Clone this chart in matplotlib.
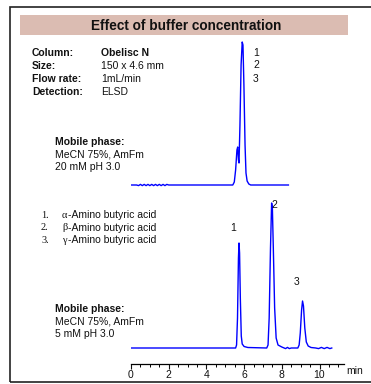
import matplotlib
matplotlib.use("Agg")
import matplotlib.pyplot as plt
from matplotlib.patches import Rectangle
from matplotlib.ticker import MultipleLocator

# ---------------- data ----------------
# bottom trace: 5 mM buffer  (time [min], signal [a.u.])
t_5mM = [0, 5.55, 5.60, 5.65, 5.70, 5.73, 5.76, 5.80, 5.85, 5.90, 6.00, 6.20,
         7.20, 7.27, 7.33, 7.40, 7.46, 7.50, 7.55, 7.62, 7.70, 7.80, 8.00,
         8.20, 8.30, 8.40, 8.50, 8.85, 8.92, 8.98, 9.05, 9.10, 9.15, 9.22,
         9.30, 9.40, 9.55, 9.80, 9.95, 10.10, 10.25, 10.40, 10.55, 10.65]
s_5mM = [0, 0, 3, 30, 90, 105, 95, 50, 12, 4, 1.5, 0.5,
         0, 3, 30, 100, 145, 140, 100, 40, 10, 3, 1,
         -0.6, 0.6, -0.6, 0, 0, 3, 15, 38, 47, 42, 20,
         6, 2, 0.5, 0, -0.6, 0.6, -0.6, 0.6, -0.6, 0]

# top trace: 20 mM buffer
t_20mM = [0, 0.30, 0.40, 0.50, 0.60, 0.70, 0.80, 0.90, 1.00, 1.10, 1.20, 1.30,
          1.40, 1.50, 1.60, 1.70, 1.80, 1.90, 2.00,
          5.40, 5.48, 5.55, 5.62, 5.66, 5.70, 5.73, 5.78, 5.84, 5.90,
          5.94, 5.99, 6.05, 6.10, 6.16, 6.25, 6.35, 8.35]
s_20mM = [0, 0, -0.6, 0.6, -0.6, 0.6, -0.6, 0.6, -0.6, 0.6, -0.6, 0.6,
          -0.6, 0.6, -0.6, 0.6, -0.6, 0.6, 0,
          0, 3, 15, 35, 38, 25, 22, 60, 120, 143,
          140, 100, 40, 12, 4, 1, 0, 0]
offset_20mM = 163

peak_labels = ["1", "2", "3"]
compounds = ["\u03b1-Amino butyric acid", "\u03b2-Amino butyric acid",
             "\u03b3-Amino butyric acid"]
x_ticks = [0, 2, 4, 6, 8, 10]

title = "Effect of buffer concentration"
info_keys = ["Column:", "Size:", "Flow rate:", "Detection:"]
info_vals = ["Obelisc N", "150 x 4.6 mm", "1mL/min", "ELSD"]
mp_top = ["MeCN 75%, AmFm", "20 mM pH 3.0"]
mp_bot = ["MeCN 75%, AmFm", "5 mM pH 3.0"]

# ---------------- figure ----------------
W, H = 371, 384
fig = plt.figure(figsize=(W / 100, H / 100), dpi=100)
SANS = ["Liberation Sans", "DejaVu Sans"]
SERIF = ["Liberation Serif", "DejaVu Serif"]
plt.rcParams["font.family"] = SANS
FS = 7.5
TXT = "#111111"


def fx(x):
    return x / W


def fy(y):
    return 1 - y / H


# outer frame
fig.add_artist(Rectangle((fx(10), fy(382)), 2, (382 - 7) / H,
                         transform=fig.transFigure, fill=False,
                         edgecolor="#222222", linewidth=1.2))
# title box
fig.add_artist(Rectangle((fx(20), fy(35)), (348 - 20) / W, 20 / H,
                         transform=fig.transFigure, facecolor="#dbbcb2",
                         edgecolor="none"))
fig.text(fx(186), fy(25.5), title, ha="center", va="center",
         fontsize=9.8, fontweight="bold", color=TXT)

# info block
for i, (k, v) in enumerate(zip(info_keys, info_vals)):
    y = 53 + 13 * i
    fig.text(fx(32), fy(y), k, ha="left", va="center", fontsize=FS,
             fontweight="bold", color=TXT)
    fig.text(fx(101), fy(y), v, ha="left", va="center", fontsize=FS,
             fontweight="bold" if i == 0 else "normal", color=TXT)


# mobile phase texts
def mobile(y0, lines):
    fig.text(fx(55), fy(y0), "Mobile phase:", ha="left", va="center",
             fontsize=FS, fontweight="bold", color=TXT)
    for j, ln in enumerate(lines):
        fig.text(fx(55), fy(y0 + 12.5 * (j + 1)), ln, ha="left",
                 va="center", fontsize=FS, color=TXT)


mobile(142, mp_top)
mobile(309, mp_bot)

# compound list
for i, c in enumerate(compounds):
    y = 215 + 12.7 * i
    fig.text(fx(41), fy(y), f"{i + 1}.", ha="left", va="center",
             fontsize=FS, family=SERIF, color=TXT)
    fig.text(fx(62), fy(y), c[0], ha="left", va="center",
             fontsize=FS, family=SERIF, color=TXT)
    fig.text(fx(67.5), fy(y), c[1:], ha="left", va="center",
             fontsize=FS, color=TXT)

# chromatogram axes
ax_l, ax_r, ax_b, ax_t = 131, 344, 363.5, 38
ax = fig.add_axes([fx(ax_l), fy(ax_b), (ax_r - ax_l) / W, (ax_b - ax_t) / H])
ax.set_xlim(0, (ax_r - ax_l) / 18.85)
ax.set_ylim(-(ax_b - 348), 348 - ax_t)
ax.patch.set_alpha(0)
for sp in ["left", "right", "top"]:
    ax.spines[sp].set_visible(False)
ax.spines["bottom"].set_linewidth(0.9)
ax.set_yticks([])
ax.set_xticks(x_ticks)
ax.xaxis.set_minor_locator(MultipleLocator(0.5))
ax.tick_params(axis="x", which="major", direction="out", length=3.5,
               width=0.8, labelsize=FS, pad=1.0, colors=TXT)
ax.tick_params(axis="x", which="minor", direction="out", length=1.8,
               width=0.7)

ax.plot(t_5mM, s_5mM, color="#0000ff", lw=1.0)
ax.plot(t_20mM, [s + offset_20mM for s in s_20mM], color="#0000ff", lw=1.0)

fig.text(fx(346), fy(371), "min", ha="left", va="center", fontsize=FS,
         color=TXT)

# peak labels
for lab, y in zip(peak_labels, [52.5, 65.5, 78.5]):
    fig.text(fx(253), fy(y), lab, ha="left", va="center", fontsize=FS,
             color=TXT)
for lab, (x, y) in zip(peak_labels, [(233, 228), (274, 205.5), (297, 282)]):
    fig.text(fx(x), fy(y), lab, ha="center", va="center", fontsize=FS,
             color=TXT)

fig.savefig("out.png", dpi=100)
